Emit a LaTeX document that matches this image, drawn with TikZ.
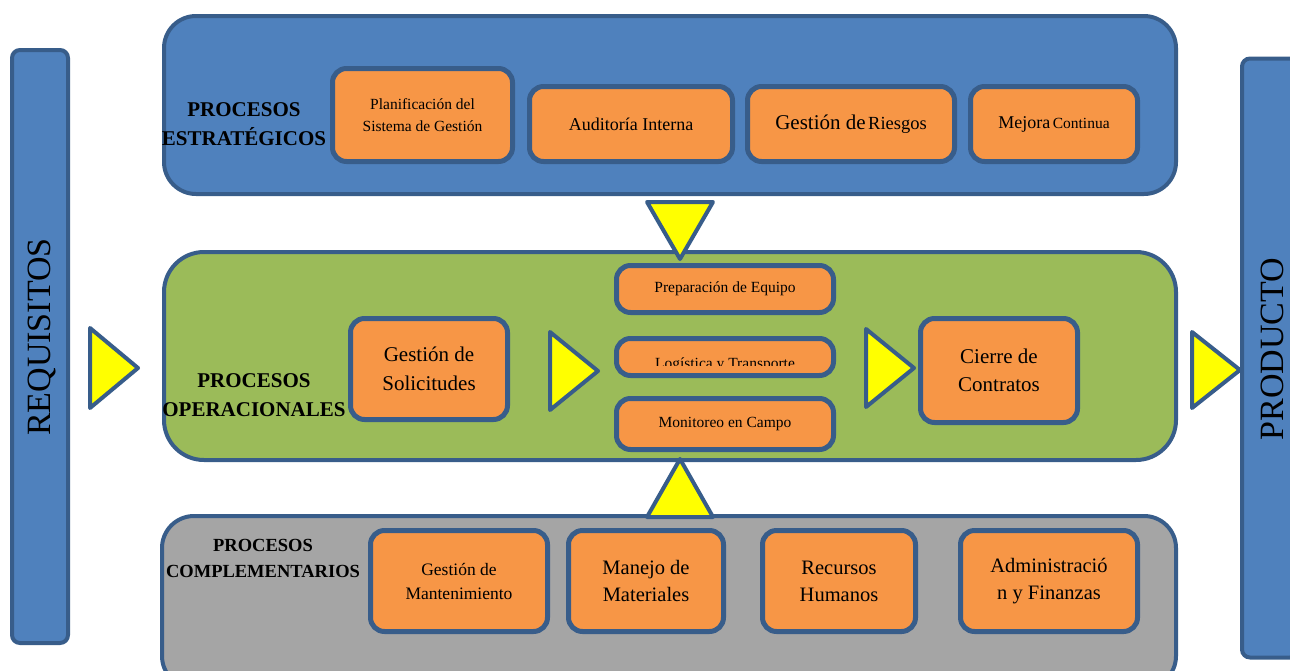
\documentclass[tikz,border=0pt]{standalone}
\usepackage{fontspec}
\setmainfont{Liberation Serif}
\usetikzlibrary{positioning}
\definecolor{SGBlue}{RGB}{79,129,189}
\definecolor{SGEdge}{RGB}{56,93,138}
\definecolor{SGOrange}{RGB}{247,150,70}
\definecolor{SGGreen}{RGB}{155,187,89}
\definecolor{SGGray}{RGB}{165,165,165}
\definecolor{SGYellow}{RGB}{255,255,0}
\newcommand{\fs}[2]{\fontsize{#1}{#2}\selectfont}
\tikzset{
  panel/.style={draw=SGEdge, line width=4pt, rounded corners=32pt, inner sep=0pt},
  barra/.style={draw=SGEdge, fill=SGBlue, line width=4pt, rounded corners=8pt, inner sep=0pt},
  caja/.style={draw=SGEdge, fill=SGOrange, line width=5pt, rounded corners=14pt,
    align=center, inner sep=1pt},
  tri/.style={draw=SGEdge, fill=SGYellow, line width=4pt, line join=round},
  etiqueta/.style={align=center, inner sep=0pt},
}

\begin{document}
\begin{tikzpicture}[x=1pt, y=-1pt]
  \useasboundingbox (0,0) rectangle (1290,670);
  % Side bars
  \node[barra, minimum width=56, minimum height=593] (req) at (40,346.5) {};
  \node[rotate=90, font=\fs{34}{40}] (reqtxt) at (42,337) {REQUISITOS};
  \node[barra, minimum width=56, minimum height=599] (prod) at (1270,358) {};
  \node[rotate=90, font=\fs{34}{40}] (prodtxt) at (1272,349) {PRODUCTO};
  % Process panels
  \node[panel, fill=SGBlue, minimum width=1012, minimum height=178] (estr) at (670,105) {};
  \node[panel, fill=SGGreen, minimum width=1012, minimum height=208, rounded corners=40pt] (oper) at (670,356) {};
  \node[panel, fill=SGGray, minimum width=1014, minimum height=172] (compl) at (669,602) {};
  % Yellow arrows
  \draw[tri] (90,328) -- (138,368) -- (90,408) -- cycle;
  \draw[tri] (647,202) -- (713,202) -- (680,259) -- cycle;
  \draw[tri] (647,517) -- (713,517) -- (680,459) -- cycle;
  \draw[tri] (550,332) -- (598,371) -- (550,410) -- cycle;
  \draw[tri] (866,329) -- (914,368) -- (866,407) -- cycle;
  \draw[tri] (1192,332) -- (1240,370) -- (1192,408) -- cycle;
  % Strategic processes
  \node[caja, minimum width=180, minimum height=93, font=\fs{15.5}{22}] (plan) at (422.5,115)
    {Planificación del\\Sistema de Gestión};
  \node[caja, minimum width=203, minimum height=75, font=\fs{18}{22}] (audit) at (631,124)
    {Auditoría Interna};
  \node[caja, minimum width=207, minimum height=75] (riesgo) at (851,124)
    {{\fs{21}{24}Gestión de} {\fs{18.5}{24}Riesgos}};
  \node[caja, minimum width=167, minimum height=75] (mejora) at (1054,124)
    {{\fs{18}{22}Mejora} {\fs{15.5}{22}Continua}};
  \node[etiqueta, font=\fs{21}{29}\bfseries] (estrtxt) at (244,124)
    {PROCESOS\\ESTRATÉGICOS};
  % Operational processes
  \node[caja, minimum width=157, minimum height=101, font=\fs{21}{29}] (solic) at (429,369)
    {Gestión de\\Solicitudes};
  \node[caja, minimum width=217, minimum height=47, font=\fs{15.5}{20}] (prep) at (725,289)
    {Preparación de Equipo};
  \node[caja, minimum width=217, minimum height=37] (logis) at (725,357) {};
  \begin{scope}
    \clip (614,338) rectangle (836,365);
    \node[anchor=base, font=\fs{15.5}{20}] (logtxt) at (725,368) {Logística y Transporte};
  \end{scope}
  \node[caja, minimum width=217, minimum height=51, font=\fs{15.5}{20}] (monit) at (725,424)
    {Monitoreo en Campo};
  \node[caja, minimum width=157, minimum height=104, font=\fs{21}{28}] (cierre) at (999,370.5)
    {Cierre de\\Contratos};
  \node[etiqueta, font=\fs{21}{29}\bfseries] (opertxt) at (254,395)
    {PROCESOS\\OPERACIONALES};
  % Complementary processes
  \node[caja, minimum width=177, minimum height=101, font=\fs{17.5}{24}] (mant) at (459,581)
    {Gestión de\\Mantenimiento};
  \node[caja, minimum width=155, minimum height=101, font=\fs{20.5}{27}] (manejo) at (646,581)
    {Manejo de\\Materiales};
  \node[caja, minimum width=153, minimum height=101, font=\fs{20.5}{27}] (recursos) at (839,581)
    {Recursos\\Humanos};
  \node[caja, minimum width=177, minimum height=101, font=\fs{20.5}{27}] (admin) at (1049,581)
    {Administració\\n y Finanzas};
  \node[etiqueta, font=\fs{18.5}{26}\bfseries] (compltxt) at (263,558)
    {PROCESOS\\COMPLEMENTARIOS};
\end{tikzpicture}
\end{document}
